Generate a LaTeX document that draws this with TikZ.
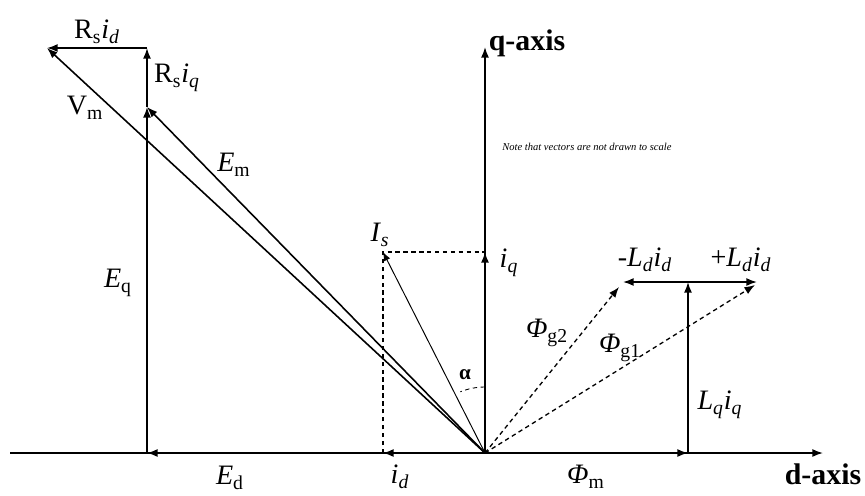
\documentclass[tikz,border=0pt]{standalone}
\usepackage{fontspec}
\setmainfont{Liberation Serif}
\usetikzlibrary{arrows.meta}

\newcommand{\lb}[1]{\textsubscript{#1}}

\begin{document}
\begin{tikzpicture}[
  x=0.02cm, y=0.02cm,
  vec/.style={line width=0.9pt, -{Latex[length=6pt,width=4.5pt]}},
  thinvec/.style={line width=0.55pt, -{Latex[length=5pt,width=4pt]}},
  dvec/.style={line width=0.75pt, dash pattern=on 2.5pt off 2pt, -{Latex[length=6pt,width=4.5pt]}},
  guide/.style={line width=0.9pt, dash pattern=on 2.5pt off 2pt},
  lbl/.style={font=\fontsize{16}{18}\selectfont, inner sep=1pt},
  axlbl/.style={font=\fontsize{17}{19}\selectfont\bfseries, inner sep=1pt},
]
  \useasboundingbox (0,0) rectangle (865,495);

  % axes
  \coordinate (O) at (485,42);
  \coordinate (dl) at (10,42);
  \coordinate (dr) at (823,42);
  \coordinate (qt) at (485,448);
  \draw[vec] (dl) -- (dr);
  \draw[vec] (O) -- (qt);
  \node[axlbl] (dlab) at (823,21) {d-axis};
  \node[axlbl] (qlab) at (527,452) {q-axis};

  % voltage side
  \coordinate (ed) at (147,42);
  \coordinate (eq) at (147,388);
  \coordinate (rq) at (147,447);
  \coordinate (vm) at (47,447);
  \draw[vec] (O) -- (ed);
  \draw[vec] (ed) -- (eq);
  \draw[vec] (eq) -- (rq);
  \draw[vec] (rq) -- (vm);
  \draw[vec] (O) -- (vm);
  \draw[vec] (O) -- (eq);

  % current
  \coordinate (id) at (383,42);
  \coordinate (is) at (383,243);
  \coordinate (iq) at (485,243);
  \coordinate (al) at (485,108);
  \draw[vec] (O) -- (id);
  \draw[vec] (O) -- (iq);
  \draw[thinvec] (O) -- (is);
  \draw[guide] (id) -- (is) -- (iq);
  \draw[guide, line width=0.5pt] (al) arc[start angle=90, end angle=112, radius=1.32cm];

  % flux side
  \coordinate (pm) at (688,42);
  \coordinate (lx) at (688,213);
  \coordinate (ldm) at (623,213);
  \coordinate (ldp) at (757,213);
  \coordinate (g2) at (619,208);
  \coordinate (g1) at (755,210);
  \draw[vec] (O) -- (pm);
  \draw[vec] (pm) -- (lx);
  \draw[vec] (lx) -- (ldm);
  \draw[vec] (lx) -- (ldp);
  \draw[dvec] (O) -- (g2);
  \draw[dvec] (O) -- (g1);

  % labels
  \node[lbl] (l_rd) at (97,463) {R\lb{s}\textit{i}\lb{\textit{d}}};
  \node[lbl] (l_rq) at (177,417) {R\lb{s}\textit{i}\lb{\textit{q}}};
  \node[lbl] (l_vm) at (85,387) {V\lb{m}};
  \node[lbl] (l_em) at (234,330) {\textit{E}\lb{m}};
  \node[lbl] (l_eq) at (118,212) {\textit{E}\lb{q}};
  \node[lbl] (l_ed) at (230,17) {\textit{E}\lb{d}};
  \node[lbl] (l_id) at (400,18) {\textit{i}\lb{\textit{d}}};
  \node[lbl] (l_is) at (380,260) {\textit{I}\lb{\textit{s}}};
  \node[lbl] (l_iq) at (509,232) {\textit{i}\lb{\textit{q}}};
  \node[lbl, font=\fontsize{12}{14}\selectfont\bfseries] (l_al) at (465,120) {α};
  \node[lbl] (l_ldm) at (645,235) {-\textit{L}\lb{\textit{d}}\textit{i}\lb{\textit{d}}};
  \node[lbl] (l_ldp) at (741,235) {+\textit{L}\lb{\textit{d}}\textit{i}\lb{\textit{d}}};
  \node[lbl] (l_g2) at (547,162) {\textit{Φ}\lb{g2}};
  \node[lbl] (l_g1) at (620,147) {\textit{Φ}\lb{g1}};
  \node[lbl] (l_pm) at (586,18) {\textit{Φ}\lb{m}};
  \node[lbl] (l_lq) at (720,90) {\textit{L}\lb{\textit{q}}\textit{i}\lb{\textit{q}}};
  \node[anchor=west, inner sep=0pt, font=\fontsize{6}{7}\selectfont\itshape] (note) at (502,348) {Note that vectors are not drawn to scale};
\end{tikzpicture}
\end{document}
